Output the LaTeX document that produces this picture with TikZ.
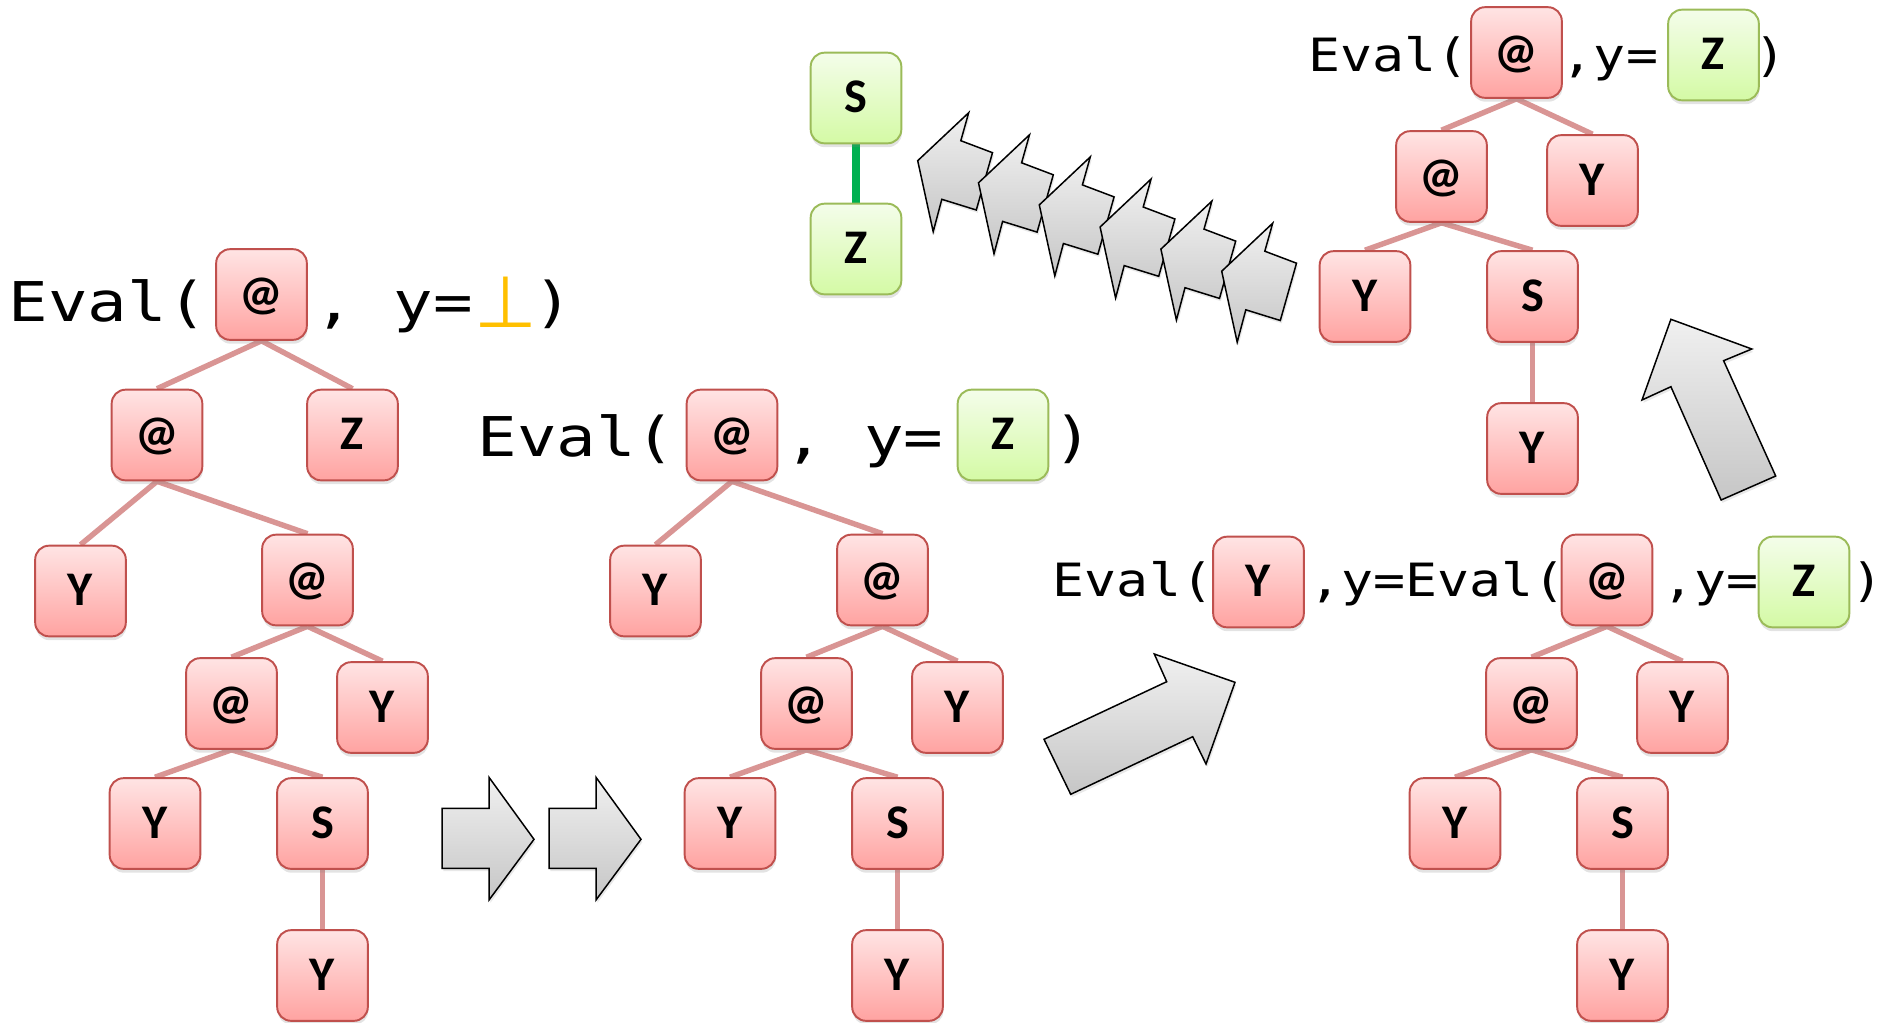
\documentclass[tikz,border=0pt]{standalone}
\usepackage{fontspec}
\setmainfont{DejaVu Sans}
\newfontfamily\evalbig[FakeStretch=1.2]{DejaVu Sans Mono}
\newfontfamily\evalsmall[FakeStretch=1.16]{DejaVu Sans Mono}
\newfontfamily\boxfont{Carlito}
\newfontfamily\symfont{DejaVu Sans}
\usetikzlibrary{shadows}

\definecolor{nodeborder}{RGB}{192,80,77}
\definecolor{nodetop}{RGB}{255,228,228}
\definecolor{nodebot}{RGB}{255,163,161}
\definecolor{greenborder}{RGB}{155,187,89}
\definecolor{greentop}{RGB}{244,253,234}
\definecolor{greenbot}{RGB}{212,250,165}
\definecolor{edgepink}{RGB}{217,149,148}
\definecolor{linkgreen}{RGB}{0,176,80}
\definecolor{bottomgold}{RGB}{255,192,0}
\definecolor{arrowtop}{RGB}{240,240,240}
\definecolor{arrowbot}{RGB}{198,198,198}

\pgfdeclarelayer{background}
\pgfsetlayers{background,main}

\begin{document}
\begin{tikzpicture}[x=0.02cm, y=-0.02cm,
  term/.style={rounded corners=7.9pt, minimum width=51.6pt, minimum height=51.6pt,
    inner sep=0pt, line width=1.1pt, text height=17pt, text depth=0pt,
    font=\boxfont\bfseries\fontsize{27.5}{27.5}\selectfont,
    drop shadow={shadow xshift=0.3pt, shadow yshift=-2.2pt, opacity=0.22}},
  redterm/.style={term, draw=nodeborder, top color=nodetop, bottom color=nodebot},
  greenterm/.style={term, draw=greenborder, top color=greentop, bottom color=greenbot},
  treeedge/.style={draw=edgepink, line width=3.1pt},
  greenlink/.style={draw=linkgreen, line width=4pt},
  bigcode/.style={inner sep=0pt, anchor=base, font=\evalbig\fontsize{31.2}{31.2}\selectfont},
  smallcode/.style={inner sep=0pt, anchor=base, font=\evalsmall\fontsize{26.1}{26.1}\selectfont},
  blockarrow/.style={draw=black, line width=0.85pt, line join=miter,
    top color=arrowtop, bottom color=arrowbot,
    drop shadow={shadow xshift=0.8pt, shadow yshift=-1.6pt, opacity=0.18}}
]
\useasboundingbox (0,0) rectangle (1884,1022);

% ---- first term: Eval(@, y=bottom) ----
\node[bigcode] (t1a) at (107.8,321) {Eval(};
\node[bigcode] (t1b) at (394,321) {, y=};
\node[inner sep=0pt, anchor=base, text=bottomgold,
      font=\symfont\fontsize{41}{41}\selectfont] (t1c) at (505.5,327) {\makebox[0pt]{⊥}};
\node[bigcode] (t1d) at (553,321) {)};

\node[redterm] (r1) at (261.5,294.5) {@};
\node[redterm] (a1) at (157,435) {@};
\node[redterm] (z1) at (352.5,435) {Z};
\node[redterm] (y1) at (80.5,591) {Y};
\node[redterm] (b1) at (307.5,580) {@};
\node[redterm] (c1) at (231.5,703.5) {@};
\node[redterm] (y2) at (382.5,707.5) {Y};
\node[redterm] (y3) at (155,823.5) {Y};
\node[redterm] (s1) at (322.5,823.5) {S};
\node[redterm] (y4) at (322.5,975.5) {Y};

% ---- second term: Eval(@, y=Z) ----
\node[bigcode] (t2a) at (576.5,456) {Eval(};
\node[bigcode] (t2b) at (864,456) {, y=};
\node[bigcode] (t2c) at (1073,456) {)};
\node[greenterm] (g1) at (1003,435) {Z};

\node[redterm] (r2) at (732,435) {@};
\node[redterm] (y5) at (655.5,591) {Y};
\node[redterm] (b2) at (882.5,580) {@};
\node[redterm] (c2) at (806.5,703.5) {@};
\node[redterm] (y6) at (957.5,707.5) {Y};
\node[redterm] (y7) at (730,823.5) {Y};
\node[redterm] (s2) at (897.5,823.5) {S};
\node[redterm] (y8) at (897.5,975.5) {Y};

% ---- third term: Eval(Y, y=Eval(@, y=Z)) ----
\node[smallcode] (t3a) at (1133,596) {Eval(};
\node[smallcode] (t3b) at (1437.5,596) {,y=Eval(};
\node[smallcode] (t3c) at (1710.5,596) {,y=};
\node[smallcode] (t3d) at (1867,596) {)};
\node[redterm] (ye) at (1258.5,582) {Y};
\node[greenterm] (g2) at (1804,582) {Z};

\node[redterm] (r3) at (1607,580) {@};
\node[redterm] (c3) at (1531.5,703.5) {@};
\node[redterm] (y9) at (1682.5,707.5) {Y};
\node[redterm] (y10) at (1455,823.5) {Y};
\node[redterm] (s3) at (1622.5,823.5) {S};
\node[redterm] (y11) at (1622.5,975.5) {Y};

% ---- fourth term: Eval(@, y=Z) ----
\node[smallcode] (t4a) at (1388.5,71) {Eval(};
\node[smallcode] (t4b) at (1610,71) {,y=};
\node[smallcode] (t4c) at (1770,71) {)};
\node[greenterm] (g3) at (1713.5,55) {Z};

\node[redterm] (r4) at (1516.5,52.5) {@};
\node[redterm] (c4) at (1441.5,176.5) {@};
\node[redterm] (y12) at (1592.5,180.5) {Y};
\node[redterm] (y13) at (1365,296.5) {Y};
\node[redterm] (s4) at (1532.5,296.5) {S};
\node[redterm] (y14) at (1532.5,448.5) {Y};

% ---- result: S over Z ----
\node[greenterm] (gs) at (856,98) {S};
\node[greenterm] (gz) at (856,249) {Z};

% ---- tree edges ----
\begin{pgfonlayer}{background}
  \foreach \p/\c in {r1/a1, r1/z1, a1/y1, a1/b1, b1/c1, b1/y2, c1/y3, c1/s1, s1/y4,
                     r2/y5, r2/b2, b2/c2, b2/y6, c2/y7, c2/s2, s2/y8,
                     r3/c3, r3/y9, c3/y10, c3/s3, s3/y11,
                     r4/c4, r4/y12, c4/y13, c4/s4, s4/y14}
    \draw[treeedge] (\p.south) -- (\c.north);
  \draw[greenlink] (gs.south) -- (gz.north);
\end{pgfonlayer}

% ---- step arrows ----
\draw[blockarrow] (442,808.3) -- (489,808.3) -- (489,777.3) -- (534,839.3)
  -- (489,900) -- (489,868.3) -- (442,868.3) -- cycle;
\draw[blockarrow, shift={(107,0)}] (442,808.3) -- (489,808.3) -- (489,777.3) -- (534,839.3)
  -- (489,900) -- (489,868.3) -- (442,868.3) -- cycle;

\draw[blockarrow] (1044,739.3) -- (1166.7,681.7) -- (1154.3,654) -- (1235,682.3)
  -- (1206,764) -- (1192.7,736.7) -- (1070.7,794.3) -- cycle;

\draw[blockarrow] (1670.9,319.3) -- (1751.8,349) -- (1723.6,360.7) -- (1775.7,476)
  -- (1721.1,500) -- (1670.9,386.7) -- (1642,400) -- cycle;

\foreach \i in {0,...,5}
  \draw[blockarrow, shift={(\i*60.8,\i*22.1)}] (917.7,160.7) -- (968.7,112.7)
    -- (960.8,140.7) -- (992.5,152.7) -- (976.3,210) -- (941.8,199.3)
    -- (933.2,231.7) -- cycle;
\end{tikzpicture}
\end{document}
